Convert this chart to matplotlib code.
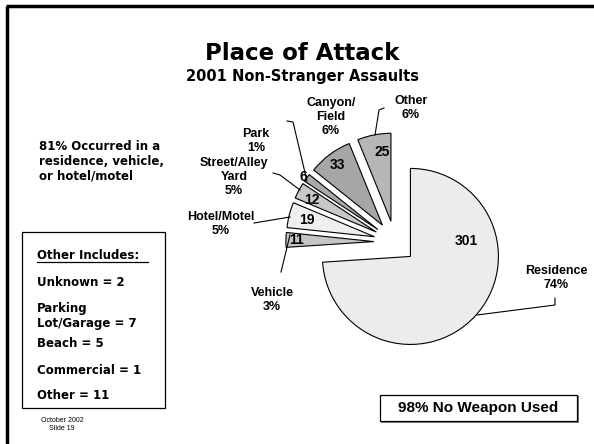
import matplotlib.pyplot as plt
from matplotlib.patches import Rectangle

places = ["Residence", "Vehicle", "Hotel/Motel", "Street/Alley\nYard", "Park", "Canyon/\nField", "Other"]
counts = [301, 11, 19, 12, 6, 33, 25]
pcts = ["74%", "3%", "5%", "5%", "1%", "6%", "6%"]  # as printed on the slide
colors = ["#ececec", "#c4c4c4", "#efefef", "#c8c8c8", "#aaaaaa", "#a6a6a6", "#b6b6b6"]

other_items = ["Unknown = 2", "Parking\nLot/Garage = 7", "Beach = 5", "Commercial = 1", "Other = 11"]

W, H = 594, 444
fig = plt.figure(figsize=(W / 100, H / 100), dpi=100)

# pie axes: centre ~ (395, 242) px, radius ~ 88 px
ax = fig.add_axes([263 / W, 70 / H, 264 / W, 264 / H])
ax.pie(counts, startangle=90, counterclock=False, colors=colors,
       explode=[0.24] * len(counts),
       wedgeprops=dict(edgecolor="black", linewidth=0.8))
ax.set_xlim(-1.5, 1.5)
ax.set_ylim(-1.5, 1.5)

# overlay in pixel coordinates for text and leaders
ov = fig.add_axes([0, 0, 1, 1], facecolor="none")
ov.set_xlim(0, W)
ov.set_ylim(H, 0)
ov.axis("off")

# slide frame
ov.plot([7, 7], [H, 6], color="black", lw=2.5, solid_capstyle="butt")
ov.plot([6, W], [6, 6], color="black", lw=2.5, solid_capstyle="butt")

bold = dict(fontweight="bold", color="black")
ov.text(302, 53, "Place of Attack", fontsize=16.5, ha="center", va="center", **bold)
ov.text(302, 76, "2001 Non-Stranger Assaults", fontsize=10.5, ha="center", va="center", **bold)

# outer labels (x, y) centre of text block
lab = dict(fontsize=9, ha="center", va="center", linespacing=1.25, family="Liberation Sans", **bold)
lab_pos = [(556, 278), (272, 300), (221, 224), (234, 177), (256, 141), (331, 117), (411, 108)]
for (x, y), p, q in zip(lab_pos, places, pcts):
    ov.text(x, y, f"{p}\n{q}", **lab)

# leader lines
lk = dict(color="black", lw=0.8)
ov.plot([555, 555, 477], [298, 305, 315], **lk)
ov.plot([281, 290], [272, 235], **lk)
ov.plot([254, 290], [223, 217], **lk)
ov.plot([273, 280, 300], [173, 175, 190], **lk)
ov.plot([287, 293, 307], [121, 122, 181], **lk)
ov.plot([384, 379, 375], [108, 110, 135], **lk)

# counts inside slices
num = dict(fontsize=10, ha="center", va="center", family="Liberation Sans", **bold)
num_pos = [(466, 241), (297, 240), (307, 220), (312, 200), (303, 177), (337, 165), (382, 152)]
for (x, y), c in zip(num_pos, counts):
    ov.text(x, y, str(c), **num)

# side note
ov.text(39, 161, "81% Occurred in a\nresidence, vehicle,\nor hotel/motel", fontsize=8.5,
        ha="left", va="center", linespacing=1.2, **bold)

# "Other Includes" box
ov.add_patch(Rectangle((22, 232), 143, 176, fill=False, edgecolor="black", lw=0.9))
ov.text(37, 255, "Other Includes:", fontsize=8.5, ha="left", va="center", **bold)
ov.plot([37, 148], [262, 262], color="black", lw=0.9)
item_y = [282, 316, 343, 370, 395]
for y, t in zip(item_y, other_items):
    ov.text(37, y, t, fontsize=8.5, ha="left", va="center", linespacing=1.2, **bold)

# weapon box with shadow
ov.add_patch(Rectangle((381, 396), 198, 27, facecolor="#808080", edgecolor="none"))
ov.add_patch(Rectangle((380, 395), 197, 26, facecolor="white", edgecolor="black", lw=0.9))
ov.text(478, 408, "98% No Weapon Used", fontsize=11, ha="center", va="center",
        family="Liberation Sans", **bold)

ov.text(62, 424, "October 2002\nSlide 19", fontsize=5, ha="center", va="center",
        family="Liberation Sans", linespacing=1.2)

fig.savefig("out.png", dpi=100)
